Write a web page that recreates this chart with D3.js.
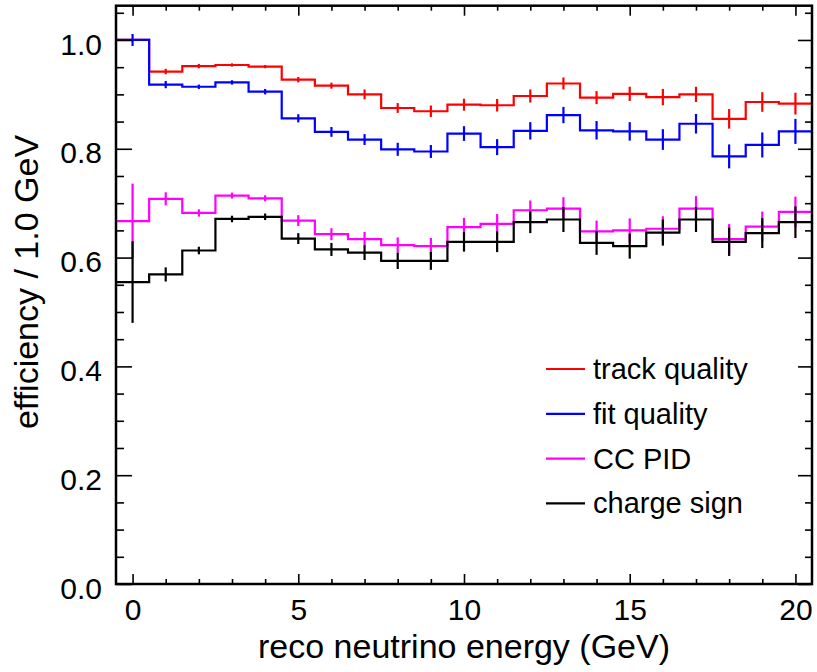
<!DOCTYPE html>
<html>
<head>
<meta charset="utf-8">
<script src="https://cdnjs.cloudflare.com/ajax/libs/d3/7.8.5/d3.min.js"></script>
<style>
  body { margin: 0; background: #fff; }
  text { font-family: "Liberation Sans", Arial, Helvetica, sans-serif; fill: #000; }
</style>
</head>
<body>
<div id="main"></div>
<script>
// bin centres (GeV), one bin per 1 GeV
const energy = [0, 1, 2, 3, 4, 5, 6, 7, 8, 9, 10, 11, 12, 13, 14, 15, 16, 17, 18, 19, 20];

const trackQuality = [1.000, 0.942, 0.952, 0.954, 0.951, 0.927, 0.916, 0.900, 0.875, 0.869, 0.881,
  0.880, 0.897, 0.920, 0.894, 0.901, 0.895, 0.900, 0.855, 0.886, 0.883];
const trackQualityErr = [0.000, 0.005, 0.004, 0.003, 0.003, 0.005, 0.0055, 0.009, 0.009, 0.0105, 0.011,
  0.0116, 0.012, 0.011, 0.012, 0.013, 0.015, 0.014, 0.018, 0.018, 0.020];

const fitQuality = [1.000, 0.918, 0.914, 0.922, 0.905, 0.856, 0.831, 0.817, 0.799, 0.795, 0.828,
  0.803, 0.833, 0.862, 0.834, 0.832, 0.817, 0.846, 0.786, 0.807, 0.832];
const fitQualityErr = [0.011, 0.0067, 0.004, 0.004, 0.005, 0.0075, 0.009, 0.010, 0.012, 0.012, 0.0135,
  0.0147, 0.016, 0.015, 0.017, 0.017, 0.019, 0.018, 0.022, 0.023, 0.023];

const ccPid = [0.667, 0.708, 0.682, 0.714, 0.709, 0.668, 0.643, 0.634, 0.623, 0.621, 0.656,
  0.662, 0.687, 0.690, 0.648, 0.650, 0.653, 0.690, 0.634, 0.657, 0.684];
const ccPidErr = [0.069, 0.012, 0.0067, 0.0055, 0.0055, 0.010, 0.011, 0.013, 0.014, 0.015, 0.017,
  0.018, 0.018, 0.021, 0.020, 0.022, 0.023, 0.023, 0.0275, 0.0275, 0.028];

const chargeSign = [0.555, 0.569, 0.613, 0.671, 0.675, 0.635, 0.615, 0.609, 0.594, 0.594, 0.629,
  0.629, 0.665, 0.670, 0.627, 0.621, 0.646, 0.670, 0.629, 0.645, 0.665];
const chargeSignErr = [0.075, 0.013, 0.007, 0.006, 0.006, 0.010, 0.012, 0.0135, 0.015, 0.0165, 0.018,
  0.019, 0.020, 0.023, 0.022, 0.023, 0.024, 0.023, 0.026, 0.0275, 0.029];

const seriesNames = ['track quality', 'fit quality', 'CC PID', 'charge sign'];
const seriesColors = ['#ff0000', '#0000ff', '#ff00ff', '#000000'];

const xMajorTicks = [0, 5, 10, 15, 20];
const yMajorTicks = [0.0, 0.2, 0.4, 0.6, 0.8, 1.0];

const series = [
  { name: seriesNames[0], color: seriesColors[0], values: trackQuality, errors: trackQualityErr },
  { name: seriesNames[1], color: seriesColors[1], values: fitQuality, errors: fitQualityErr },
  { name: seriesNames[2], color: seriesColors[2], values: ccPid, errors: ccPidErr },
  { name: seriesNames[3], color: seriesColors[3], values: chargeSign, errors: chargeSignErr }
];

const width = 817;
const height = 672;
const plotLeft = 116, plotRight = 812, plotTop = 5.7, plotBottom = 584;

const svg = d3.select('#main')
  .append('svg')
  .attr('width', width)
  .attr('height', height);

const x = d3.scaleLinear().domain([-0.5, 20.5]).range([plotLeft, plotRight]);
const y = d3.scaleLinear().domain([0, 1.063]).range([plotBottom, plotTop]);

const xMinorTicks = d3.range(0, 21, 1).filter((d) => d % 5 !== 0);
const yMinorTicks = d3.range(0, 22, 1).map((d) => d * 0.05).filter((d, i) => i % 4 !== 0);

// step outline through bin edges
const step = d3.line()
  .x((d) => x(d[0]))
  .y((d) => y(d[1]))
  .curve(d3.curveStepAfter);

const plot = svg.append('g');

series.forEach((s) => {
  const pts = energy.map((e, i) => [e - 0.5, s.values[i]]);
  pts.push([energy[energy.length - 1] + 0.5, s.values[s.values.length - 1]]);

  plot.append('path')
    .attr('d', step(pts))
    .attr('fill', 'none')
    .attr('stroke', s.color)
    .attr('stroke-width', 2.2);

  plot.selectAll(null)
    .data(energy.map((e, i) => ({ e: e, v: s.values[i], err: s.errors[i] })))
    .enter().append('line')
    .attr('x1', (d) => x(d.e))
    .attr('x2', (d) => x(d.e))
    .attr('y1', (d) => y(d.v - d.err))
    .attr('y2', (d) => y(d.v + d.err))
    .attr('stroke', s.color)
    .attr('stroke-width', 2.2);
});

// axes, ticks pointing inwards
function drawAxis(axis, tx, ty, labels) {
  const g = svg.append('g')
    .attr('transform', 'translate(' + [tx, ty] + ')')
    .call(axis);
  g.select('.domain').remove();
  g.selectAll('line').attr('stroke', '#000').attr('stroke-width', 1.6);
  if (!labels) g.selectAll('text').remove();
  return g;
}

const xAxis = drawAxis(d3.axisBottom(x).tickValues(xMajorTicks).tickSize(-10).tickPadding(15)
  .tickFormat(d3.format('d')), 0, plotBottom, true);
xAxis.attr('font-family', null).attr('font-size', null);
xAxis.selectAll('text').attr('font-size', '30px');
drawAxis(d3.axisBottom(x).tickValues(xMinorTicks).tickSize(-5), 0, plotBottom, false);
drawAxis(d3.axisTop(x).tickValues(xMajorTicks).tickSize(-10), 0, plotTop, false);
drawAxis(d3.axisTop(x).tickValues(xMinorTicks).tickSize(-5), 0, plotTop, false);

const yAxis = drawAxis(d3.axisLeft(y).tickValues(yMajorTicks).tickSize(-16).tickPadding(14)
  .tickFormat(d3.format('.1f')), plotLeft, 0, true);
yAxis.attr('font-family', null).attr('font-size', null);
yAxis.selectAll('text').attr('font-size', '30px').attr('dy', '0.47em');
drawAxis(d3.axisLeft(y).tickValues(yMinorTicks).tickSize(-8), plotLeft, 0, false);
drawAxis(d3.axisRight(y).tickValues(yMajorTicks).tickSize(-14), plotRight, 0, false);
drawAxis(d3.axisRight(y).tickValues(yMinorTicks).tickSize(-7), plotRight, 0, false);

// frame
svg.append('rect')
  .attr('x', plotLeft)
  .attr('y', plotTop)
  .attr('width', plotRight - plotLeft)
  .attr('height', plotBottom - plotTop)
  .attr('fill', 'none')
  .attr('stroke', '#000')
  .attr('stroke-width', 2.5);

// axis titles
svg.append('text')
  .attr('x', (plotLeft + plotRight) / 2)
  .attr('y', 658)
  .attr('text-anchor', 'middle')
  .attr('font-size', '34px')
  .text('reco neutrino energy (GeV)');

svg.append('text')
  .attr('transform', 'translate(38, 282) rotate(-90)')
  .attr('text-anchor', 'middle')
  .attr('font-size', '34px')
  .text('efficiency / 1.0 GeV');

// legend
const legend = svg.selectAll('.legend')
  .data(series)
  .enter().append('g')
  .attr('class', 'legend')
  .attr('transform', (d, i) => 'translate(546, ' + (369 + i * 44.8) + ')');

legend.append('line')
  .attr('x1', 0)
  .attr('x2', 39)
  .attr('stroke', (d) => d.color)
  .attr('stroke-width', 2.2);

legend.append('text')
  .attr('x', 47)
  .attr('y', 10)
  .attr('font-size', '29px')
  .text((d) => d.name);
</script>
</body>
</html>
